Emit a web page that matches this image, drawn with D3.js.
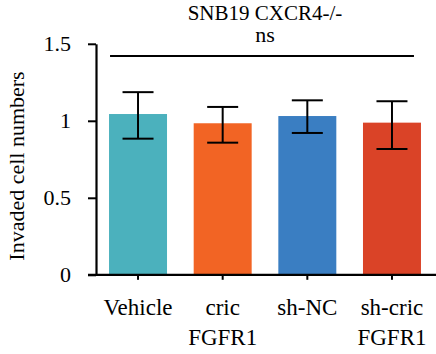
<!DOCTYPE html>
<html>
<head>
<meta charset="utf-8">
<script src="https://cdn.jsdelivr.net/npm/d3@7"></script>
<style>
  html, body { margin: 0; padding: 0; background: #fff; }
</style>
</head>
<body>
<div id="chart"></div>
<script>
// data
const categories = ["Vehicle", "cric FGFR1", "sh-NC", "sh-cric FGFR1"];
const means = [1.044, 0.984, 1.031, 0.988];
const errLow = [0.884, 0.858, 0.921, 0.817];
const errHigh = [1.186, 1.090, 1.133, 1.127];
const colors = ["#4bb1bd", "#f26424", "#3a7ec2", "#da4327"];
const yTicks = [0, 0.5, 1, 1.5];
const sigLevel = 1.42;

const width = 436;
const height = 354;
const font = "Liberation Serif";

const x = d3.scaleBand()
    .domain(categories)
    .range([96, 434])
    .paddingInner(0.315)
    .paddingOuter(0.154);

const y = d3.scaleLinear()
    .domain([0, 1.5])
    .range([274.8, 43.8]);

const svg = d3.select("#chart").append("svg")
    .attr("width", width)
    .attr("height", height);

// bars
svg.append("g")
    .selectAll("rect")
    .data(categories)
    .join("rect")
    .attr("x", d => x(d))
    .attr("y", (d, i) => y(means[i]))
    .attr("width", x.bandwidth())
    .attr("height", (d, i) => y(0) - y(means[i]))
    .attr("fill", (d, i) => colors[i]);

// error bars
const capW = 31;
const eb = svg.append("g").attr("stroke", "#000").attr("stroke-width", 2);
categories.forEach((c, i) => {
    const cx = x(c) + x.bandwidth() / 2;
    eb.append("line").attr("x1", cx).attr("x2", cx).attr("y1", y(errHigh[i])).attr("y2", y(errLow[i]));
    eb.append("line").attr("x1", cx - capW / 2).attr("x2", cx + capW / 2).attr("y1", y(errHigh[i])).attr("y2", y(errHigh[i]));
    eb.append("line").attr("x1", cx - capW / 2).attr("x2", cx + capW / 2).attr("y1", y(errLow[i])).attr("y2", y(errLow[i]));
});

// y axis
const gy = svg.append("g")
    .attr("transform", "translate(96,0)")
    .call(d3.axisLeft(y).tickValues(yTicks).tickFormat(d => d).tickSize(8).tickSizeOuter(0).tickPadding(17));
gy.select(".domain").attr("stroke-width", 2.2);
gy.selectAll(".tick line").attr("stroke-width", 2);
gy.selectAll("text")
    .attr("font-size", 22)
    .attr("font-family", font)
    .attr("fill", "#000");

// x axis
const gx = svg.append("g")
    .attr("transform", `translate(0,${y(0)})`)
    .call(d3.axisBottom(x).tickSize(5).tickSizeOuter(0).tickFormat(""));
gx.select(".domain").attr("d", `M88,0H436`).attr("stroke-width", 2.2);
gx.selectAll(".tick line").attr("stroke-width", 2);

// x labels (two lines)
categories.forEach(c => {
    const parts = c === "cric FGFR1" ? ["cric", "FGFR1"] : c === "sh-cric FGFR1" ? ["sh-cric", "FGFR1"] : [c];
    parts.forEach((p, j) => {
        svg.append("text")
            .attr("x", x(c) + x.bandwidth() / 2)
            .attr("y", 315 + j * 30)
            .attr("text-anchor", "middle")
            .attr("font-family", font)
            .attr("font-size", 23)
            .text(p);
    });
});

// y label
svg.append("text")
    .attr("transform", "translate(24,166) rotate(-90)")
    .attr("text-anchor", "middle")
    .attr("font-family", font)
    .attr("font-size", 22)
    .text("Invaded cell numbers");

// title + significance
const midX = (x(categories[0]) + x(categories[3]) + x.bandwidth()) / 2;
svg.append("text")
    .attr("x", midX)
    .attr("y", 20)
    .attr("text-anchor", "middle")
    .attr("font-family", font)
    .attr("font-size", 21)
    .text("SNB19 CXCR4-/-");
svg.append("text")
    .attr("x", midX)
    .attr("y", 42)
    .attr("text-anchor", "middle")
    .attr("font-family", font)
    .attr("font-size", 22)
    .text("ns");
svg.append("line")
    .attr("x1", x(categories[0]) + 1)
    .attr("x2", x(categories[3]) + x.bandwidth() - 7)
    .attr("y1", y(sigLevel))
    .attr("y2", y(sigLevel))
    .attr("stroke", "#000")
    .attr("stroke-width", 2);
</script>
</body>
</html>
